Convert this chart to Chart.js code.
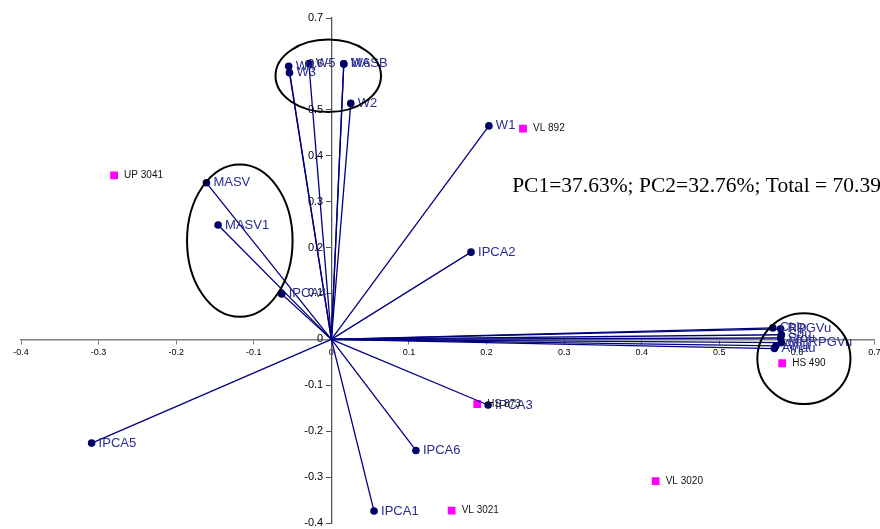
<!DOCTYPE html>
<html>
<head>
<meta charset="utf-8">
<script src="https://cdn.jsdelivr.net/npm/chart.js@4.4.0/dist/chart.umd.min.js"></script>
<style>
  body { margin: 0; background: #fff; }
  #wrap { width: 880px; height: 529px; }
</style>
</head>
<body>
<div id="wrap"><canvas id="biplot" width="880" height="529"></canvas></div>
<script>
// trait vectors (loadings)
const varNames = ['W4', 'W3', 'W5', 'W6', 'MASB', 'W2', 'W1', 'IPCA2', 'MASV', 'MASV1', 'IPCA4',
                  'IPCA5', 'IPCA1', 'IPCA6', 'IPCA3',
                  'Chlp', 'RPGVu', 'Sdu', 'Srou', 'MHRPGVu', 'Amu', 'Amau'];
const varX = [-0.055, -0.054, -0.029, 0.016, 0.016, 0.025, 0.203, 0.180, -0.161, -0.146, -0.064,
              -0.309, 0.055, 0.109, 0.202,
              0.569, 0.579, 0.580, 0.579, 0.580, 0.573, 0.571];
const varY = [0.595, 0.581, 0.601, 0.600, 0.600, 0.514, 0.465, 0.190, 0.341, 0.249, 0.099,
              -0.226, -0.374, -0.242, -0.143,
              0.025, 0.023, 0.010, 0.003, -0.007, -0.014, -0.020];

// genotype scores
const genoNames = ['UP 3041', 'VL 892', 'HS 873', 'VL 3020', 'VL 3021', 'HS 490'];
const genoX = [-0.280, 0.247, 0.188, 0.418, 0.155, 0.581];
const genoY = [0.357, 0.459, -0.141, -0.309, -0.373, -0.052];

// circled groups: centre and radii in data units
const groupX = [-0.004, -0.118, 0.609];
const groupY = [0.574, 0.215, -0.042];
const groupRx = [0.068, 0.068, 0.060];
const groupRy = [0.079, 0.166, 0.099];

const xTicks = [-0.4, -0.3, -0.2, -0.1, 0, 0.1, 0.2, 0.3, 0.4, 0.5, 0.6, 0.7];
const yTicks = [-0.4, -0.3, -0.2, -0.1, 0, 0.1, 0.2, 0.3, 0.4, 0.5, 0.6, 0.7];

const summaryText = 'PC1=37.63%; PC2=32.76%; Total = 70.39';

const vectorSets = varNames.map((name, i) => ({
    label: name,
    data: [{ x: 0, y: 0 }, { x: varX[i], y: varY[i] }],
    showLine: true,
    borderColor: '#000080',
    borderWidth: 1.3,
    pointRadius: [0, 3.8],
    pointBackgroundColor: '#000066',
    pointBorderWidth: 0,
    kind: 'vector'
}));

const genoSet = {
    label: 'genotypes',
    data: genoNames.map((n, i) => ({ x: genoX[i], y: genoY[i] })),
    pointStyle: 'rect',
    pointRadius: 5.5,
    pointBackgroundColor: '#ff00ff',
    pointBorderWidth: 0,
    kind: 'geno'
};

// draws the names beside the points, the ellipses and the summary text
const decorPlugin = {
    id: 'decor',
    afterDatasetsDraw(chart) {
        const ctx = chart.ctx;
        const xs = chart.scales.x, ys = chart.scales.y;
        ctx.save();
        ctx.textBaseline = 'middle';
        ctx.textAlign = 'left';

        chart.data.datasets.forEach((ds, di) => {
            const meta = chart.getDatasetMeta(di);
            if (ds.kind === 'vector') {
                const pt = meta.data[1];
                ctx.font = '13px "Liberation Sans", Arial, sans-serif';
                ctx.fillStyle = '#2b2b95';
                ctx.fillText(ds.label, pt.x + 7, pt.y);
            } else if (ds.kind === 'geno') {
                ctx.font = '10px "Liberation Sans", Arial, sans-serif';
                ctx.fillStyle = '#111';
                meta.data.forEach((pt, i) => ctx.fillText(genoNames[i], pt.x + 10, pt.y));
            }
        });

        ctx.strokeStyle = '#000';
        ctx.lineWidth = 2;
        groupX.forEach((gx, i) => {
            const cx = xs.getPixelForValue(gx);
            const cy = ys.getPixelForValue(groupY[i]);
            const rx = Math.abs(xs.getPixelForValue(gx + groupRx[i]) - cx);
            const ry = Math.abs(ys.getPixelForValue(groupY[i] + groupRy[i]) - cy);
            ctx.beginPath();
            ctx.ellipse(cx, cy, rx, ry, 0, 0, Math.PI * 2);
            ctx.stroke();
        });

        ctx.font = '21.5px "Liberation Serif", "Times New Roman", serif';
        ctx.fillStyle = '#000';
        ctx.textBaseline = 'alphabetic';
        ctx.fillText(summaryText, xs.getPixelForValue(0.233), ys.getPixelForValue(0.32));
        ctx.restore();
    }
};

// stop the edge tick labels from shrinking the plot area
const noEdgePad = (s) => { s.paddingLeft = 0; s.paddingRight = 0; s.paddingTop = 0; s.paddingBottom = 0; };
const fmt = (v) => String(Math.round(v * 10) / 10);

const ctx = document.getElementById('biplot').getContext('2d');
const biplot = new Chart(ctx, {
    type: 'scatter',
    data: { datasets: vectorSets.concat([genoSet]) },
    options: {
        responsive: false,
        devicePixelRatio: 1,
        animation: false,
        layout: { padding: { left: 21, right: 4, top: 18, bottom: 6 } },
        plugins: {
            legend: { display: false },
            tooltip: { enabled: false }
        },
        scales: {
            x: {
                type: 'linear',
                min: -0.4,
                max: 0.7,
                position: { y: 0 },
                afterBuildTicks: (s) => { s.ticks = xTicks.map(v => ({ value: v })); },
                afterFit: noEdgePad,
                ticks: {
                    font: { family: '"Liberation Sans", Arial', size: 9 },
                    color: '#000',
                    padding: 4,
                    maxRotation: 0,
                    autoSkip: false,
                    callback: fmt
                },
                grid: { drawOnChartArea: false, drawTicks: true, tickLength: 4, color: '#777' },
                border: { color: '#808080', width: 1.5 }
            },
            y: {
                type: 'linear',
                min: -0.4,
                max: 0.7,
                position: { x: 0 },
                afterBuildTicks: (s) => { s.ticks = yTicks.map(v => ({ value: v })); },
                afterFit: noEdgePad,
                ticks: { display: false },
                grid: { drawOnChartArea: false, drawTicks: true, tickLength: 5, color: '#555' },
                border: { color: '#555', width: 1.3 }
            },
            // label-only copy of the y axis, set a little left of the axis line
            yLabels: {
                type: 'linear',
                axis: 'y',
                min: -0.4,
                max: 0.7,
                position: { x: -0.0105 },
                afterBuildTicks: (s) => { s.ticks = yTicks.map(v => ({ value: v })); },
                afterFit: noEdgePad,
                ticks: {
                    font: { family: '"Liberation Sans", Arial', size: 11 },
                    color: '#000',
                    padding: 0,
                    autoSkip: false,
                    callback: fmt
                },
                grid: { display: false, drawTicks: false },
                border: { display: false }
            }
        }
    },
    plugins: [decorPlugin]
});
</script>
</body>
</html>
